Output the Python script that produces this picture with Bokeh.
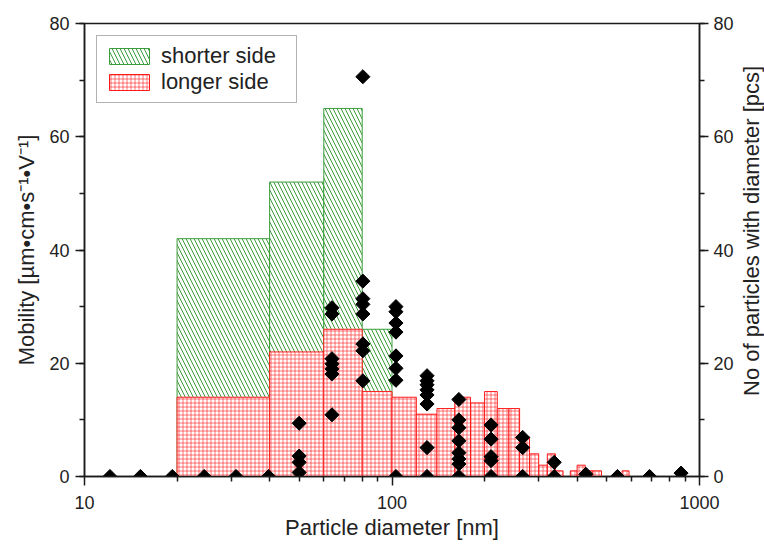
import math
from bokeh.plotting import figure
from bokeh.layouts import row
from bokeh.models import (Range1d, LinearAxis, FixedTicker, SingleIntervalTicker,
                          NumeralTickFormatter, Legend, LegendItem)
from bokeh.core.properties import value
from bokeh.embed import file_html
from bokeh.resources import INLINE

# ---- data -------------------------------------------------------------
# histogram: shorter side (bin edges in nm, counts)
short_left = [20, 40, 60, 80]
short_right = [40, 60, 80, 100]
short_count = [42, 52, 65, 26]

# histogram: longer side
long_left = [20, 40, 60, 80, 100, 120, 140, 160, 180, 200, 220, 240, 260, 280,
             300, 320, 340, 380, 400, 425, 450, 560]
long_right = [40, 60, 80, 100, 120, 140, 160, 180, 200, 220, 240, 260, 280, 300,
              320, 340, 360, 400, 425, 450, 480, 590]
long_count = [14, 22, 26, 15, 14, 11, 12, 14, 13, 15, 12, 12, 7, 4,
              2, 4, 1, 1, 2, 1, 1, 1]

# mobility points (diameter in nm -> mobility values)
point_diameter = [12.1, 15.2, 19.3, 24.5, 31.1, 39.7, 49.9, 63.8, 80.4, 103,
                  130, 165, 210, 266, 337, 427, 541, 688, 871]
point_mobility = [
    [0], [0], [0], [0], [0], [0],
    [9.4, 3.6, 2.5, 0.7],
    [29.8, 28.7, 20.8, 19.9, 19.0, 18.1, 10.9],
    [70.6, 34.5, 31.4, 30.4, 28.7, 23.4, 22.2, 16.9],
    [30.0, 29.1, 27.1, 25.5, 21.3, 19.1, 17.0, 0],
    [17.8, 16.9, 16.2, 15.3, 14.4, 12.8, 5.1, 0],
    [13.6, 10.0, 8.6, 6.3, 4.2, 3.1, 2.2, 0],
    [9.1, 6.6, 3.5, 2.8, 0],
    [6.9, 5.1, 0],
    [2.5, 0],
    [0.4], [0], [0], [0.6],
]

x_ticks = [10, 100, 1000]
x_minor = [20, 30, 40, 50, 60, 70, 80, 90, 200, 300, 400, 500, 600, 700, 800, 900]

xs = [d for d, vals in zip(point_diameter, point_mobility) for _ in vals]
ys = [v for vals in point_mobility for v in vals]

FONT = "Liberation Sans"
GREEN = "#3a9c3a"
RED = "#ff1a1a"
AX = "#1a1a1a"
TXT = "#222222"

p = figure(width=740, height=545, x_axis_type="log",
           x_range=Range1d(10, 1000), y_range=Range1d(0, 80),
           output_backend="svg", toolbar_location=None,
           min_border_left=84, min_border_right=41,
           min_border_top=23, min_border_bottom=69)
p.extra_y_ranges = {"count": Range1d(0, 80)}
p.grid.visible = False
p.outline_line_color = AX
p.outline_line_width = 1.5
p.background_fill_color = "white"
p.border_fill_color = "white"

g = p.quad(left=short_left, right=short_right, top=short_count, bottom=0,
           y_range_name="count", fill_color="white", line_color=GREEN, line_width=1,
           hatch_pattern="\\", hatch_color=GREEN, hatch_scale=8, hatch_weight=1)
r = p.quad(left=long_left, right=long_right, top=long_count, bottom=0,
           y_range_name="count", fill_color="white", line_color=RED, line_width=1,
           hatch_pattern="+", hatch_color=RED, hatch_scale=4, hatch_weight=0.6)

p.scatter(xs, ys, marker="square", angle=math.pi / 4, size=10,
          fill_color="black", line_color="black")

# axes styling
p.xaxis.ticker = FixedTicker(ticks=x_ticks, minor_ticks=x_minor)
p.xaxis.formatter = NumeralTickFormatter(format="0")
p.xaxis.axis_label = "Particle diameter [nm]"

p.yaxis.ticker = SingleIntervalTicker(interval=20, num_minor_ticks=2)
p.yaxis.axis_label = "Mobility [µm•cm•s⁻¹•V⁻¹]"

raxis = LinearAxis(y_range_name="count",
                   ticker=SingleIntervalTicker(interval=20, num_minor_ticks=2))
p.add_layout(raxis, "right")

for ax in [p.xaxis[0], p.yaxis[0], raxis]:
    ax.axis_line_color = AX
    ax.axis_line_width = 1.5
    ax.major_tick_line_color = AX
    ax.major_tick_line_width = 1.5
    ax.minor_tick_line_color = AX
    ax.minor_tick_line_width = 1.5
    ax.major_tick_in = 0
    ax.major_tick_out = 9
    ax.minor_tick_in = 0
    ax.minor_tick_out = 5
    ax.major_label_text_font = FONT
    ax.major_label_text_font_size = "18px"
    ax.major_label_text_color = TXT
    ax.axis_label_text_font = FONT
    ax.axis_label_text_font_size = "22px"
    ax.axis_label_text_font_style = "normal"
    ax.axis_label_text_color = TXT
    ax.major_label_standoff = 6
    ax.axis_label_standoff = 7
p.xaxis.major_label_standoff = 10
p.xaxis.axis_label_standoff = 3
raxis.major_label_standoff = 5

legend = Legend(items=[LegendItem(label="shorter side", renderers=[g]),
                       LegendItem(label="longer side", renderers=[r])],
                location="top_left", glyph_width=50, glyph_height=20,
                label_text_font=FONT, label_text_font_size="22px",
                label_text_color=TXT, label_standoff=7, label_width=128,
                padding=7, spacing=0, margin=12, label_height=20,
                border_line_color="#666666", border_line_width=1,
                background_fill_alpha=1.0)
p.add_layout(legend)

# thin strip on the right carrying the right-hand axis title (bottom-to-top)
right_title = ["No of particles with diameter [pcs]"]
t = figure(width=24, height=545, x_range=Range1d(0, 1), y_range=Range1d(0, 545),
           output_backend="svg", toolbar_location=None,
           min_border=0, min_border_left=0, min_border_right=0,
           min_border_top=0, min_border_bottom=0)
t.axis.visible = False
t.grid.visible = False
t.outline_line_color = None
t.background_fill_color = "white"
t.border_fill_color = "white"
t.text(x=[0.45], y=[545 - 249.5], text=right_title, angle=math.pi / 2,
       text_align="center", text_baseline="middle",
       text_font=value(FONT), text_font_size="22px", text_color=TXT)

layout = row(p, t, spacing=0)
open("out.html", "w").write(file_html(layout, INLINE))
